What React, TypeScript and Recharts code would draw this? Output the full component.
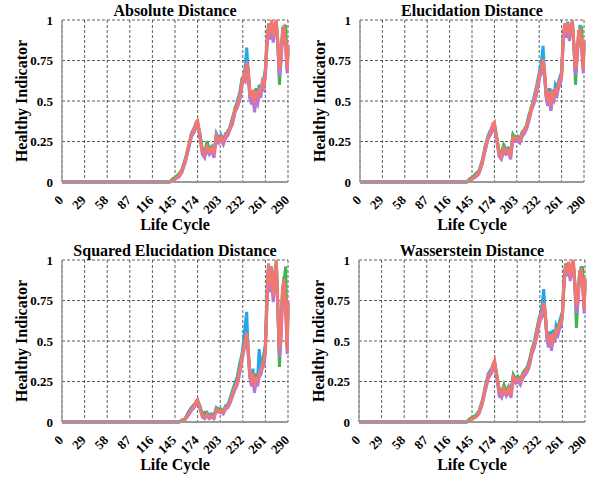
import { LineChart, Line, XAxis, YAxis, CartesianGrid } from "recharts";

// life cycle positions shared by every series
const cycles = [0, 138, 142, 146, 150, 154, 158, 162, 166, 170, 172, 174, 177, 180, 183, 186, 189, 192, 195, 198, 201, 204, 207, 210, 213, 216, 219, 222, 225, 228, 231, 233, 235, 237, 239, 241, 243, 245, 247, 249, 251, 253, 255, 257, 259, 261, 263, 265, 267, 269, 271, 273, 275, 277, 279, 281, 283, 285, 287, 289, 290];

const xTicks = [0, 29, 58, 87, 116, 145, 174, 203, 232, 261, 290];
const yTicks = [0, 0.25, 0.5, 0.75, 1];

// Absolute Distance
const absBlue = [0, 0, 0.01, 0.03, 0.04, 0.08, 0.14, 0.21, 0.3, 0.34, 0.36, 0.37, 0.3, 0.2, 0.16, 0.23, 0.2, 0.22, 0.18, 0.3, 0.27, 0.29, 0.26, 0.3, 0.3, 0.35, 0.4, 0.44, 0.5, 0.55, 0.64, 0.65, 0.7, 0.83, 0.68, 0.52, 0.5, 0.55, 0.47, 0.58, 0.5, 0.6, 0.57, 0.6, 0.64, 0.7, 0.88, 0.95, 0.9, 0.98, 0.92, 0.95, 0.97, 0.84, 0.66, 0.8, 0.9, 0.97, 0.88, 0.72, 0.8];
const absGreen = [0, 0, 0.02, 0.03, 0.05, 0.07, 0.12, 0.2, 0.28, 0.32, 0.35, 0.36, 0.29, 0.2, 0.18, 0.25, 0.2, 0.2, 0.18, 0.28, 0.27, 0.27, 0.26, 0.28, 0.32, 0.33, 0.39, 0.46, 0.48, 0.52, 0.63, 0.64, 0.66, 0.72, 0.69, 0.54, 0.51, 0.55, 0.46, 0.55, 0.53, 0.57, 0.56, 0.61, 0.62, 0.67, 0.85, 0.98, 0.9, 0.99, 0.88, 0.96, 0.99, 0.85, 0.6, 0.76, 0.94, 0.93, 0.97, 0.7, 0.84];
const absPurple = [0, 0, 0.01, 0.02, 0.03, 0.06, 0.12, 0.2, 0.28, 0.31, 0.34, 0.35, 0.27, 0.17, 0.15, 0.2, 0.17, 0.19, 0.15, 0.27, 0.24, 0.26, 0.23, 0.27, 0.29, 0.33, 0.36, 0.43, 0.46, 0.5, 0.6, 0.63, 0.62, 0.72, 0.67, 0.52, 0.48, 0.53, 0.43, 0.5, 0.48, 0.55, 0.52, 0.58, 0.57, 0.65, 0.84, 0.94, 0.88, 0.97, 0.86, 0.94, 0.96, 0.84, 0.65, 0.74, 0.9, 0.92, 0.82, 0.67, 0.82];
const absSalmon = [0, 0, 0.01, 0.02, 0.04, 0.07, 0.13, 0.22, 0.29, 0.33, 0.37, 0.38, 0.28, 0.19, 0.17, 0.22, 0.19, 0.21, 0.17, 0.29, 0.26, 0.28, 0.25, 0.29, 0.31, 0.34, 0.38, 0.45, 0.47, 0.53, 0.62, 0.66, 0.64, 0.74, 0.7, 0.55, 0.52, 0.57, 0.49, 0.56, 0.52, 0.58, 0.55, 0.62, 0.6, 0.68, 0.86, 0.97, 0.92, 1.0, 0.9, 0.97, 1.0, 0.87, 0.7, 0.78, 0.93, 0.95, 0.86, 0.7, 0.85];

// Elucidation Distance
const eluBlue = [0, 0, 0.01, 0.03, 0.05, 0.07, 0.13, 0.22, 0.29, 0.33, 0.35, 0.36, 0.28, 0.19, 0.17, 0.22, 0.2, 0.21, 0.17, 0.29, 0.28, 0.26, 0.27, 0.31, 0.31, 0.36, 0.42, 0.45, 0.52, 0.58, 0.65, 0.7, 0.74, 0.84, 0.66, 0.53, 0.49, 0.58, 0.45, 0.57, 0.52, 0.6, 0.58, 0.62, 0.65, 0.68, 0.9, 0.97, 0.91, 0.99, 0.92, 0.95, 0.98, 0.83, 0.68, 0.8, 0.9, 0.97, 0.86, 0.72, 0.86];
const eluGreen = [0, 0, 0.02, 0.03, 0.05, 0.06, 0.11, 0.2, 0.27, 0.31, 0.34, 0.35, 0.27, 0.19, 0.18, 0.23, 0.2, 0.19, 0.17, 0.29, 0.26, 0.28, 0.25, 0.29, 0.33, 0.34, 0.41, 0.47, 0.49, 0.55, 0.62, 0.67, 0.69, 0.74, 0.67, 0.54, 0.51, 0.55, 0.44, 0.54, 0.52, 0.56, 0.57, 0.6, 0.62, 0.67, 0.87, 0.97, 0.92, 0.97, 0.89, 0.96, 0.99, 0.84, 0.6, 0.77, 0.93, 0.94, 0.96, 0.7, 0.87];
const eluPurple = [0, 0, 0.01, 0.02, 0.03, 0.05, 0.11, 0.19, 0.27, 0.3, 0.33, 0.34, 0.25, 0.16, 0.14, 0.19, 0.17, 0.18, 0.14, 0.26, 0.25, 0.25, 0.24, 0.28, 0.3, 0.33, 0.38, 0.44, 0.48, 0.53, 0.6, 0.65, 0.67, 0.73, 0.65, 0.52, 0.47, 0.53, 0.44, 0.52, 0.5, 0.54, 0.53, 0.58, 0.6, 0.64, 0.85, 0.95, 0.89, 0.96, 0.87, 0.93, 0.97, 0.82, 0.66, 0.75, 0.89, 0.92, 0.81, 0.67, 0.84];
const eluSalmon = [0, 0, 0.01, 0.02, 0.04, 0.06, 0.12, 0.21, 0.28, 0.32, 0.36, 0.37, 0.27, 0.18, 0.16, 0.21, 0.19, 0.2, 0.16, 0.28, 0.27, 0.27, 0.26, 0.3, 0.32, 0.35, 0.4, 0.46, 0.5, 0.56, 0.63, 0.68, 0.7, 0.76, 0.68, 0.55, 0.5, 0.56, 0.47, 0.55, 0.53, 0.57, 0.56, 0.61, 0.63, 0.66, 0.88, 0.98, 0.93, 0.98, 0.9, 0.96, 1.0, 0.85, 0.7, 0.78, 0.92, 0.95, 0.84, 0.7, 0.88];

// Squared Elucidation Distance
const sqBlue = [0, 0, 0, 0, 0, 0.01, 0.02, 0.06, 0.09, 0.11, 0.12, 0.13, 0.1, 0.05, 0.04, 0.06, 0.04, 0.05, 0.04, 0.09, 0.08, 0.06, 0.07, 0.1, 0.11, 0.15, 0.2, 0.24, 0.28, 0.36, 0.42, 0.5, 0.6, 0.68, 0.42, 0.28, 0.24, 0.33, 0.2, 0.3, 0.27, 0.45, 0.33, 0.38, 0.42, 0.48, 0.8, 0.97, 0.83, 0.96, 0.8, 0.86, 0.98, 0.7, 0.42, 0.58, 0.8, 0.9, 0.75, 0.47, 0.72];
const sqGreen = [0, 0, 0, 0, 0, 0.01, 0.02, 0.05, 0.08, 0.11, 0.12, 0.13, 0.09, 0.05, 0.06, 0.05, 0.03, 0.04, 0.03, 0.08, 0.07, 0.08, 0.06, 0.09, 0.1, 0.13, 0.19, 0.23, 0.26, 0.33, 0.41, 0.46, 0.52, 0.53, 0.44, 0.29, 0.25, 0.29, 0.21, 0.27, 0.25, 0.3, 0.31, 0.35, 0.4, 0.46, 0.76, 0.96, 0.86, 0.94, 0.77, 0.9, 0.99, 0.7, 0.34, 0.55, 0.83, 0.87, 0.96, 0.46, 0.74];
const sqPurple = [0, 0, 0, 0, 0, 0.005, 0.015, 0.04, 0.07, 0.09, 0.11, 0.12, 0.08, 0.03, 0.02, 0.04, 0.02, 0.03, 0.02, 0.07, 0.06, 0.06, 0.05, 0.08, 0.09, 0.12, 0.16, 0.2, 0.23, 0.3, 0.38, 0.43, 0.48, 0.52, 0.42, 0.28, 0.22, 0.27, 0.18, 0.25, 0.22, 0.28, 0.29, 0.33, 0.35, 0.42, 0.72, 0.94, 0.8, 0.92, 0.74, 0.84, 0.95, 0.68, 0.4, 0.5, 0.78, 0.84, 0.68, 0.42, 0.7];
const sqSalmon = [0, 0, 0, 0, 0, 0.005, 0.02, 0.05, 0.08, 0.1, 0.13, 0.14, 0.09, 0.04, 0.03, 0.05, 0.03, 0.04, 0.03, 0.08, 0.07, 0.07, 0.06, 0.09, 0.1, 0.13, 0.18, 0.22, 0.25, 0.32, 0.4, 0.45, 0.5, 0.55, 0.45, 0.3, 0.25, 0.3, 0.22, 0.28, 0.25, 0.3, 0.32, 0.36, 0.38, 0.45, 0.75, 0.98, 0.85, 0.95, 0.78, 0.88, 1.0, 0.72, 0.45, 0.55, 0.82, 0.88, 0.72, 0.45, 0.75];

// Wasserstein Distance
const wasBlue = [0, 0, 0.01, 0.03, 0.04, 0.07, 0.13, 0.22, 0.3, 0.33, 0.35, 0.37, 0.29, 0.2, 0.16, 0.22, 0.19, 0.22, 0.18, 0.29, 0.27, 0.28, 0.26, 0.3, 0.32, 0.34, 0.39, 0.45, 0.5, 0.57, 0.64, 0.67, 0.72, 0.82, 0.66, 0.53, 0.49, 0.56, 0.46, 0.57, 0.51, 0.6, 0.58, 0.61, 0.65, 0.68, 0.88, 0.96, 0.92, 0.98, 0.91, 0.95, 0.98, 0.84, 0.7, 0.79, 0.9, 0.96, 0.87, 0.72, 0.86];
const wasGreen = [0, 0, 0.02, 0.03, 0.04, 0.06, 0.11, 0.2, 0.28, 0.31, 0.34, 0.36, 0.28, 0.2, 0.18, 0.23, 0.19, 0.2, 0.18, 0.29, 0.26, 0.28, 0.24, 0.29, 0.32, 0.33, 0.38, 0.45, 0.47, 0.54, 0.63, 0.65, 0.67, 0.73, 0.67, 0.54, 0.49, 0.53, 0.46, 0.54, 0.51, 0.56, 0.57, 0.61, 0.6, 0.67, 0.85, 0.98, 0.91, 0.98, 0.89, 0.96, 0.99, 0.85, 0.58, 0.76, 0.93, 0.94, 0.96, 0.7, 0.88];
const wasPurple = [0, 0, 0.01, 0.02, 0.03, 0.05, 0.11, 0.19, 0.27, 0.3, 0.33, 0.35, 0.26, 0.16, 0.15, 0.19, 0.16, 0.19, 0.15, 0.26, 0.24, 0.25, 0.23, 0.27, 0.29, 0.31, 0.35, 0.42, 0.46, 0.52, 0.6, 0.63, 0.65, 0.71, 0.65, 0.52, 0.46, 0.51, 0.44, 0.52, 0.49, 0.54, 0.53, 0.57, 0.59, 0.64, 0.84, 0.95, 0.9, 0.97, 0.87, 0.94, 0.97, 0.83, 0.67, 0.74, 0.89, 0.92, 0.82, 0.67, 0.86];
const wasSalmon = [0, 0, 0.01, 0.02, 0.03, 0.06, 0.12, 0.21, 0.29, 0.32, 0.36, 0.38, 0.28, 0.19, 0.17, 0.21, 0.18, 0.21, 0.17, 0.28, 0.26, 0.27, 0.25, 0.29, 0.31, 0.33, 0.37, 0.44, 0.48, 0.55, 0.62, 0.66, 0.68, 0.74, 0.68, 0.55, 0.5, 0.54, 0.47, 0.55, 0.52, 0.57, 0.56, 0.6, 0.62, 0.66, 0.86, 0.97, 0.93, 0.99, 0.9, 0.97, 1.0, 0.86, 0.72, 0.77, 0.92, 0.95, 0.85, 0.7, 0.89];

const FONT = "'Liberation Serif', 'Times New Roman', serif";

const seriesColors = [
  { key: "blue", color: "#1fa9e6" },
  { key: "green", color: "#3fb54a" },
  { key: "purple", color: "#b877d6" },
  { key: "salmon", color: "#f4776f" },
];

const panels = [
  { title: "Absolute Distance", left: 0, top: 0, right: 12, lines: [absBlue, absGreen, absPurple, absSalmon] },
  { title: "Elucidation Distance", left: 298, top: 0, right: 14, lines: [eluBlue, eluGreen, eluPurple, eluSalmon] },
  { title: "Squared Elucidation Distance", left: 0, top: 240, right: 12, lines: [sqBlue, sqGreen, sqPurple, sqSalmon] },
  { title: "Wasserstein Distance", left: 297, top: 240, right: 12, lines: [wasBlue, wasGreen, wasPurple, wasSalmon] },
];

function XTick(props: any) {
  const { x, y, payload } = props;
  return (
    <text
      transform={`translate(${x + 2},${y + 19}) rotate(-45)`}
      textAnchor="end"
      fontFamily={FONT}
      fontWeight="bold"
      fontSize={13}
      fill="#000"
    >
      {payload.value}
    </text>
  );
}

function Panel({ p }: any) {
  const data = cycles.map((c, i) => ({
    cycle: c,
    blue: p.lines[0][i],
    green: p.lines[1][i],
    purple: p.lines[2][i],
    salmon: p.lines[3][i],
  }));
  const plotLeft = p.left + 62;
  const plotRight = p.left + 300 - p.right;
  const cx = (plotLeft + plotRight) / 2;
  return (
    <>
      <div style={{ position: "absolute", left: p.left, top: p.top }}>
        <LineChart width={300} height={240} data={data} margin={{ top: 20, right: p.right, bottom: 0, left: 0 }}>
          <CartesianGrid stroke="#333" strokeDasharray="3 2" strokeWidth={0.8} />
          <XAxis
            dataKey="cycle"
            type="number"
            domain={[0, 290]}
            ticks={xTicks}
            interval={0}
            height={58}
            tickSize={0}
            tickMargin={0}
            tickLine={false}
            axisLine={{ stroke: "#9a9a9a", strokeWidth: 2 }}
            tick={<XTick />}
          />
          <YAxis
            type="number"
            domain={[0, 1]}
            ticks={yTicks}
            width={62}
            tickSize={0}
            tickMargin={9}
            tickLine={false}
            axisLine={{ stroke: "#9a9a9a", strokeWidth: 1.5 }}
            tick={{ fontFamily: FONT, fontWeight: "bold", fontSize: 13, fill: "#000" }}
          />
          {seriesColors.map((s) => (
            <Line
              key={s.key}
              type="linear"
              dataKey={s.key}
              stroke={s.color}
              strokeWidth={3}
              dot={false}
              isAnimationActive={false}
            />
          ))}
        </LineChart>
      </div>
      <svg
        width={605}
        height={481}
        style={{ position: "absolute", left: 0, top: 0, pointerEvents: "none" }}
      >
        <g fontFamily={FONT} fontWeight="bold" fontSize={16} fill="#000">
          <text x={cx} y={p.top + 16} textAnchor="middle">{p.title}</text>
          <text x={cx} y={p.top + 230} textAnchor="middle">Life Cycle</text>
          <text transform={`translate(${p.left + 27},${p.top + 101}) rotate(-90)`} textAnchor="middle">
            Healthy Indicator
          </text>
        </g>
      </svg>
    </>
  );
}

export default function App() {
  return (
    <div style={{ position: "absolute", left: 0, top: 0, width: 605, height: 481, background: "#fff" }}>
      {panels.map((p) => (
        <Panel key={p.title} p={p} />
      ))}
    </div>
  );
}
